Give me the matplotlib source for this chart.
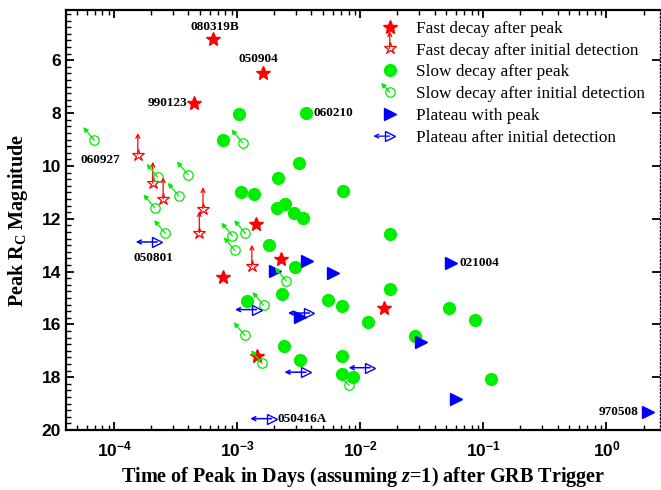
import matplotlib
matplotlib.use('Agg')
import matplotlib.pyplot as plt
from matplotlib.legend_handler import HandlerBase
from matplotlib.lines import Line2D
from matplotlib.patches import FancyArrowPatch
from matplotlib.ticker import MultipleLocator, LogLocator, NullFormatter

plt.rcParams['font.family'] = 'Liberation Sans'
plt.rcParams['font.weight'] = 'bold'
plt.rcParams['mathtext.fontset'] = 'custom'
plt.rcParams['mathtext.rm'] = 'Liberation Serif'
plt.rcParams['mathtext.it'] = 'Liberation Serif:style=italic:weight=bold'
plt.rcParams['mathtext.bf'] = 'Liberation Sans:bold'

# Fast decay after peak (filled stars)
fast_peak_t = [6.34e-4, 1.62e-3, 4.44e-4, 1.42e-3, 2.26e-3, 7.60e-4, 1.43e-3, 0.0156]
fast_peak_m = [5.18, 6.48, 7.60, 12.19, 13.51, 14.21, 17.19, 15.37]

# Fast decay after initial detection (open stars, lower limits)
fast_init_t = [1.55e-4, 2.05e-4, 2.49e-4, 5.25e-4, 4.90e-4, 1.31e-3]
fast_init_m = [9.57, 10.66, 11.25, 11.62, 12.53, 13.80]

# Slow decay after peak (filled circles)
slow_peak_t = [1.03e-3, 3.60e-3, 7.64e-4, 3.15e-3, 2.14e-3, 1.07e-3, 1.36e-3, 7.19e-3,
               2.09e-3, 2.45e-3, 2.88e-3, 3.41e-3, 1.80e-3, 2.94e-3, 2.32e-3, 1.19e-3,
               5.50e-3, 7.11e-3, 2.40e-3, 3.21e-3, 7.13e-3, 7.13e-3, 8.69e-3, 0.0173,
               0.0175, 0.0115, 0.0524, 0.0848, 0.0276, 0.115]
slow_peak_m = [8.05, 8.00, 9.03, 9.89, 10.46, 10.99, 11.05, 10.96,
               11.59, 11.43, 11.78, 11.96, 12.98, 13.84, 14.86, 15.10,
               15.06, 15.29, 16.80, 17.35, 17.20, 17.88, 18.01, 12.59,
               14.67, 15.91, 15.37, 15.85, 16.45, 18.06]

# Slow decay after initial detection (open circles)
slow_init_t = [6.87e-5, 1.10e-3, 2.25e-4, 3.96e-4, 3.34e-4, 2.12e-4, 2.59e-4, 9.12e-4,
               1.16e-3, 9.53e-4, 2.49e-3, 1.63e-3, 1.15e-3, 1.59e-3, 8.05e-3]
slow_init_m = [9.03, 9.12, 10.42, 10.33, 11.14, 11.58, 12.55, 12.65,
               12.55, 13.20, 14.35, 15.27, 16.42, 17.48, 18.31]

# Plateau with peak (filled triangles)
plat_peak_t = [2.02e-3, 3.71e-3, 6.04e-3, 3.23e-3, 0.0547, 0.0308, 0.0593, 2.17]
plat_peak_m = [13.99, 13.61, 14.07, 15.73, 13.68, 16.67, 18.84, 19.32]

# Plateau after initial detection (open triangles)
plat_init_t = [2.23e-4, 1.43e-3, 3.85e-3, 3.61e-3, 0.0120, 1.90e-3]
plat_init_m = [12.88, 15.44, 15.57, 17.81, 17.64, 19.57]

# GRB names and the point each one marks
grb_names = ['080319B', '050904', '990123', '060210', '060927', '050801', '021004', '970508', '050416A']
grb_t = [6.34e-4, 1.62e-3, 4.44e-4, 3.60e-3, 6.87e-5, 2.23e-4, 0.0547, 2.17, 1.90e-3]
grb_m = [5.18, 6.48, 7.60, 8.00, 9.03, 12.88, 13.68, 19.32, 19.57]
label_style = {
    '080319B': ((1.5, 8.5), 'center'),
    '050904': ((-3.3, 10), 'center'),
    '990123': ((-4.5, 0), 'right'),
    '060210': ((5.5, 0), 'left'),
    '060927': ((4, -14), 'center'),
    '050801': ((-3, -11.5), 'center'),
    '021004': ((6, 0), 'left'),
    '970508': ((-7, 0), 'right'),
    '050416A': ((4, 0), 'left'),
}

RED = '#ff0000'
GREEN = '#00ee00'
BLUE = '#0000ff'

fig = plt.figure(figsize=(6.61, 4.90), dpi=100)
ax = fig.add_axes([0.0998, 0.1224, 0.8986, 0.857])


def arrows(ts, ms, dx, dy, color, style, lw=0.9):
    for t, m in zip(ts, ms):
        ax.annotate('', xy=(t, m), xytext=(dx, dy), textcoords='offset points',
                    arrowprops=dict(arrowstyle=style, color=color, lw=lw,
                                    shrinkA=0, shrinkB=0, mutation_scale=7))


arrows(fast_init_t, fast_init_m, 0, 15.5, RED, '<-')
arrows(slow_init_t, slow_init_m, -8, 9.5, GREEN, '<|-')
arrows(plat_init_t, plat_init_m, -15.5, 0, BLUE, '<-', lw=1.1)

h1, = ax.plot(fast_peak_t, fast_peak_m, ls='none', marker='*', ms=10.5, mfc=RED, mec=RED)
h2, = ax.plot(fast_init_t, fast_init_m, ls='none', marker='*', ms=9, mfc='none', mec=RED, mew=0.9)
h3, = ax.plot(slow_peak_t, slow_peak_m, ls='none', marker='o', ms=8.5, mfc=GREEN, mec=GREEN)
h4, = ax.plot(slow_init_t, slow_init_m, ls='none', marker='o', ms=6.8, mfc='none', mec=GREEN, mew=0.9)
h5, = ax.plot(plat_peak_t, plat_peak_m, ls='none', marker='>', ms=8.5, mfc=BLUE, mec=BLUE)
h6, = ax.plot(plat_init_t, plat_init_m, ls='none', marker='>', ms=7.5, mfc='none', mec=BLUE, mew=1)

for name, t, m in zip(grb_names, grb_t, grb_m):
    off, ha = label_style[name]
    ax.annotate(name, xy=(t, m), xytext=off, textcoords='offset points',
                ha=ha, va='center', fontsize=9.5, fontweight='bold',
                fontfamily='Liberation Serif')

ax.set_xscale('log')
ax.set_xlim(4.04e-5, 2.72)
ax.set_ylim(20, 4.1)
ax.yaxis.set_major_locator(MultipleLocator(2))
ax.yaxis.set_minor_locator(MultipleLocator(0.25))
ax.xaxis.set_major_locator(LogLocator(base=10, numticks=12))
ax.xaxis.set_minor_locator(LogLocator(base=10, subs=range(2, 10), numticks=12))
ax.xaxis.set_minor_formatter(NullFormatter())

ax.tick_params(which='both', direction='in', top=True, right=True, labelsize=12.5)
ax.tick_params(which='major', length=6, width=1.3)
ax.tick_params(which='minor', length=3.5, width=1)
ax.tick_params(axis='y', which='minor', right=False)
ax.tick_params(axis='x', pad=7)
for s in ['left', 'bottom', 'top']:
    ax.spines[s].set_linewidth(1.6)
ax.spines['right'].set_linestyle(':')
ax.spines['right'].set_linewidth(1)

ax.set_xlabel('Time of Peak in Days (assuming $\\mathit{z}$=1) after GRB Trigger',
              fontfamily='Liberation Serif', fontweight='bold', fontsize=14.5, labelpad=4)
ax.set_ylabel('Peak R$_\\mathdefault{C}$ Magnitude',
              fontfamily='Liberation Serif', fontweight='bold', fontsize=14.5, labelpad=8)


class ArrowHandler(HandlerBase):
    def __init__(self, dx, dy, color, style):
        super().__init__()
        self.dx, self.dy, self.color, self.style = dx, dy, color, style

    def create_artists(self, legend, orig_handle, xdescent, ydescent, width, height, fontsize, trans):
        cx = 0.5 * width - xdescent
        cy = 0.5 * height - ydescent
        arr = FancyArrowPatch((cx + self.dx * fontsize, cy + self.dy * fontsize), (cx, cy),
                              arrowstyle=self.style, mutation_scale=7, color=self.color,
                              lw=0.9, shrinkA=0, shrinkB=0, transform=trans)
        mk = Line2D([cx], [cy], ls='none', marker=orig_handle.get_marker(),
                    ms=orig_handle.get_markersize(), mfc=orig_handle.get_markerfacecolor(),
                    mec=orig_handle.get_markeredgecolor(), mew=orig_handle.get_markeredgewidth(),
                    transform=trans)
        return [arr, mk]


leg = ax.legend([h1, h2, h3, h4, h5, h6],
                ['Fast decay after peak', 'Fast decay after initial detection',
                 'Slow decay after peak', 'Slow decay after initial detection',
                 'Plateau with peak', 'Plateau after initial detection'],
                handler_map={h2: ArrowHandler(0, 1.0, RED, '<-'),
                             h4: ArrowHandler(-0.5, 0.55, GREEN, '<|-'),
                             h6: ArrowHandler(-0.95, 0, BLUE, '<-')},
                loc='upper left', bbox_to_anchor=(0.49, 1.012), frameon=False,
                prop={'family': 'Liberation Serif', 'weight': 'normal', 'size': 12.4},
                handlelength=2.0, handletextpad=0.52, labelspacing=0.34, borderpad=0.4)

fig.savefig('out.png', dpi=100)
